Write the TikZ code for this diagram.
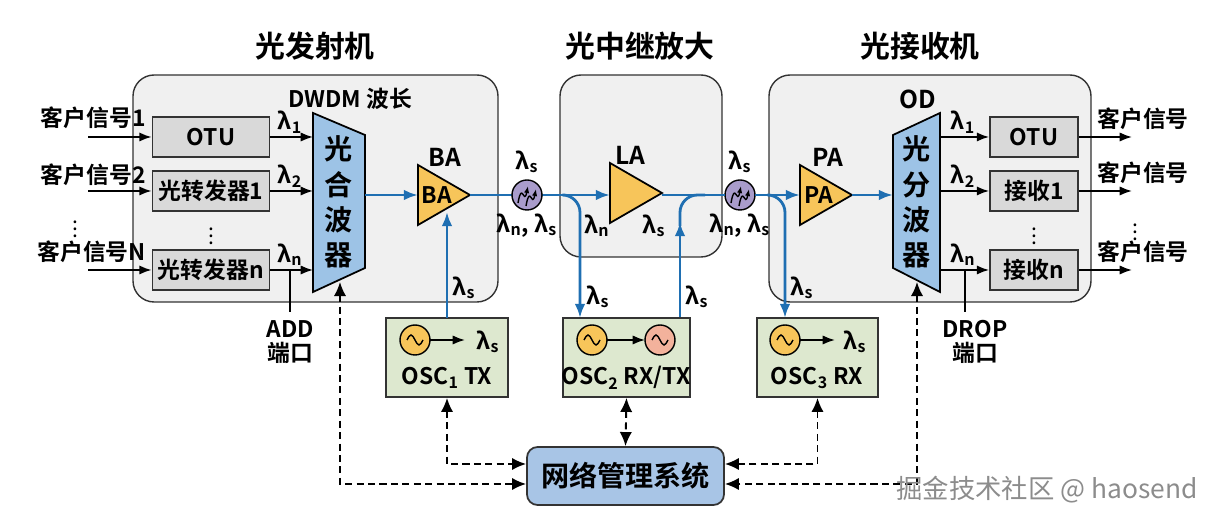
\documentclass[tikz,border=0pt]{standalone}
\usepackage{fontspec}
\setmainfont{Noto Sans CJK SC}[BoldFont={Noto Sans CJK SC Bold}]
\usetikzlibrary{arrows.meta}
\definecolor{linea}{HTML}{1F6FB2}
\definecolor{panel}{HTML}{F0F0F0}
\definecolor{caja}{HTML}{D9D9D9}
\definecolor{verde}{HTML}{DDE8CF}
\definecolor{amarillo}{HTML}{F7C55A}
\definecolor{salmon}{HTML}{F3B29C}
\definecolor{morado}{HTML}{A99CCB}
\definecolor{azul}{HTML}{9DC3E6}
\definecolor{gestion}{HTML}{A8C5E6}
\newcommand{\lam}[1]{λ\textsubscript{#1}}
\newcommand{\ondita}[2]{\draw[fill=#2,line width=0.8pt] (#1) circle (15);
    \draw[line width=0.8pt] ($(#1)+(-8,0)$) sin ($(#1)+(-4,-5)$) cos ($(#1)+(0,0)$) sin ($(#1)+(4,5)$) cos ($(#1)+(8,0)$);}
\usetikzlibrary{calc}
\begin{document}
\begin{tikzpicture}[x=0.02cm,y=-0.02cm,font=\fontsize{13}{14}\selectfont\bfseries,
    panelbox/.style={draw=black!80,line width=0.8pt,rounded corners=12,fill=panel},
    gbox/.style={draw=black!80,line width=1pt,fill=caja,minimum width=2.34cm,minimum height=0.8cm,inner sep=1pt},
    oscbox/.style={draw=black!80,line width=1pt,fill=verde,minimum height=1.58cm},
    blu/.style={draw=linea,line width=1.6pt},
    ctrl/.style={dash pattern=on 4pt off 2.5pt,line width=1.1pt,{Latex[length=8pt,width=7pt]}-{Latex[length=8pt,width=7pt]}},
    flecha/.style={line width=1pt,-{Latex[length=7pt]}},
    puntos/.style={inner sep=0pt,font=\fontsize{12}{12}\selectfont}]
    \useasboundingbox (0,0) rectangle (1208,519);

    %Paneles
    \draw[panelbox] (133,75) rectangle (498,302);
    \draw[panelbox] (560,75) rectangle (722,257);
    \draw[panelbox] (769,75) rectangle (1091,302);
    \node[font=\fontsize{17}{19}\selectfont\bfseries] (tTX) at (315,46) {光发射机};
    \node[font=\fontsize{17}{19}\selectfont\bfseries] (tLA) at (640,46) {光中继放大};
    \node[font=\fontsize{17}{19}\selectfont\bfseries] (tRX) at (920,46) {光接收机};

    %Transmisor
    \node[gbox] (otu) at (211,137) {OTU};
    \node[gbox] (tr1) at (211,191) {光转发器1};
    \node[gbox] (trn) at (211,270) {光转发器n};
    \node[puntos] (dots1) at (211,231) {$\vdots$};
    \node[anchor=east] (cs1) at (152,118) {客户信号1};
    \node[anchor=east] (cs2) at (152,175) {客户信号2};
    \node[puntos] (csd) at (75,224) {$\vdots$};
    \node[anchor=east] (csn) at (152,252) {客户信号N};
    \foreach \n/\y in {otu/137,tr1/191,trn/270}{
        \coordinate (in\n) at (88,\y);
        \draw[flecha] (in\n) -- (\n.west);
    }
    \draw[fill=azul,line width=1pt] (313,113) -- (365,135) -- (365,268) -- (313,292) -- cycle;
    \node[align=center,font=\fontsize{16}{20}\selectfont\bfseries] (mux) at (339,202) {光\\合\\波\\器};
    \node (dwdm) at (350,99) {DWDM 波长};
    \foreach \n/\y/\l in {otu/137/1,tr1/191/2,trn/270/n}{
        \coordinate (mx\n) at (313,\y);
        \draw[flecha] (\n.east) -- (mx\n);
        \node (l\n) at (290,\y-15) {\lam{\l}};
    }
    \coordinate (add) at (290,270);
    \draw[line width=1pt] (add) -- (290,312);
    \node[align=center] (addl) at (290,342) {ADD\\端口};

    %BA
    \draw[fill=amarillo,line width=1pt] (418,165) -- (470,195) -- (418,225) -- cycle;
    \node (ba) at (437,195) {BA};
    \node[font=\fontsize{14}{16}\selectfont\bfseries] (bat) at (445,157) {BA};
    \coordinate (iso1) at (527,195);
    \draw[blu,-{Latex[length=8pt]}] (365,195) -- (418,195);
    \draw[blu] (470,195) -- (iso1);
    \draw[blu] (iso1) -- (560,195);

    %OSC1
    \node[oscbox,minimum width=2.44cm] (osc1) at (447,357.5) {};
    \ondita{415,340}{amarillo}
    \draw[flecha] (430,340) -- (465,340);
    \node (osc1l) at (488,342) {\lam{s}};
    \node (osc1t) at (447,378) {OSC\textsubscript{1} TX};
    \draw[blu,-{Latex[length=8pt]}] (447,318) -- (447,212);
    \node (ls1) at (464,288) {\lam{s}};

    %Aislador
    \foreach \c in {527,740}{
        \draw[fill=morado,line width=0.8pt] (\c,195) circle (15);
        \draw[line width=0.8pt,-{Latex[length=4pt]}] (\c-9,203) .. controls (\c-5,180) and (\c-3,206) .. (\c+1,186);
        \draw[line width=0.8pt,-{Latex[length=4pt]}] (\c-1,206) .. controls (\c+3,183) and (\c+5,209) .. (\c+9,189);
        \node (ils\c) at (\c,162) {\lam{s}};
        \node (ilns\c) at (\c,226) {\lam{n}, \lam{s}};
    }

    %LA
    \draw[fill=amarillo,line width=1pt] (610,163) -- (662,193) -- (610,223) -- cycle;
    \node[font=\fontsize{14}{16}\selectfont\bfseries] (lat) at (630,155) {LA};
    \node (lan) at (597,226) {\lam{n}};
    \node (las) at (654,226) {\lam{s}};
    \draw[blu,-{Latex[length=8pt]}] (560,195) -- (610,195);
    \draw[blu] (662,195) -- (725,195);
    \draw[blu,rounded corners=10,-{Latex[length=8pt]}] (565,195) -| (580,318);
    \node (ls2a) at (598,297) {\lam{s}};
    \draw[blu,-{Latex[length=8pt]}] (680,318) -- (680,222);
    \draw[blu,rounded corners=10] (680,226) |- (705,195);
    \node (ls2b) at (697,297) {\lam{s}};

    %OSC2
    \node[oscbox,minimum width=2.54cm] (osc2) at (626.5,357.5) {};
    \ondita{592,340}{amarillo}
    \ondita{660,340}{salmon}
    \draw[flecha] (607,340) -- (645,340);
    \node (osc2t) at (626,378) {OSC\textsubscript{2} RX/TX};

    %PA
    \draw[blu,-{Latex[length=8pt]}] (755,195) -- (800,195);
    \draw[blu,rounded corners=10,-{Latex[length=8pt]}] (770,195) -| (785,318);
    \node (ls3) at (802,288) {\lam{s}};
    \draw[fill=amarillo,line width=1pt] (800,165) -- (852,195) -- (800,225) -- cycle;
    \node (pa) at (819,195) {PA};
    \node[font=\fontsize{14}{16}\selectfont\bfseries] (pat) at (828,157) {PA};
    \draw[blu,-{Latex[length=8pt]}] (852,195) -- (893,195);

    %OSC3
    \node[oscbox,minimum width=2.42cm] (osc3) at (817.5,357.5) {};
    \ondita{785,340}{amarillo}
    \draw[flecha] (800,340) -- (835,340);
    \node (osc3l) at (855,342) {\lam{s}};
    \node (osc3t) at (817,378) {OSC\textsubscript{3} RX};

    %Receptor
    \draw[fill=azul,line width=1pt] (893,135) -- (940,113) -- (940,292) -- (893,268) -- cycle;
    \node[align=center,font=\fontsize{16}{20}\selectfont\bfseries] (demux) at (917,202) {光\\分\\波\\器};
    \node[font=\fontsize{14}{16}\selectfont\bfseries] (od) at (918,99) {OD};
    \node[gbox,minimum width=1.76cm] (otu2) at (1034,137) {OTU};
    \node[gbox,minimum width=1.76cm] (rx1) at (1034,191) {接收1};
    \node[gbox,minimum width=1.76cm] (rxn) at (1034,270) {接收n};
    \node[puntos] (dots2) at (1034,231) {$\vdots$};
    \foreach \n/\y/\l in {otu2/137/1,rx1/191/2,rxn/270/n}{
        \coordinate (dm\n) at (940,\y);
        \coordinate (out\n) at (1132,\y);
        \draw[flecha] (dm\n) -- (\n.west);
        \draw[flecha] (\n.east) -- (out\n);
        \node (l\n) at (963,\y-15) {\lam{\l}};
        \node (c\n) at (1143,\y-18) {客户信号};
    }
    \node[puntos] (csd2) at (1135,227) {$\vdots$};
    \coordinate (drop) at (965,270);
    \draw[line width=1pt] (drop) -- (965,312);
    \node[align=center] (dropl) at (975,342) {DROP\\端口};

    %Gestion
    \node[draw=black!80,line width=1pt,fill=gestion,rounded corners=6,minimum width=3.94cm,minimum height=1.16cm,font=\fontsize{16}{18}\selectfont\bfseries] (nms) at (625.5,476) {网络管理系统};
    \coordinate (mxb) at (340,282);
    \coordinate (dmb) at (917,282);
    \draw[ctrl] (mxb) |- ([yshift=-0.16cm]nms.west);
    \draw[ctrl] (osc1.south) |- ([yshift=0.24cm]nms.west);
    \draw[ctrl] (osc2.south) -- (nms.north);
    \draw[ctrl] (osc3.south) |- ([yshift=0.24cm]nms.east);
    \draw[ctrl] (dmb) |- ([yshift=-0.16cm]nms.east);

    \node[text=black!45,font=\fontsize{15}{17}\selectfont] (marca) at (1047,490) {掘金技术社区 @ haosend};
\end{tikzpicture}
\end{document}
